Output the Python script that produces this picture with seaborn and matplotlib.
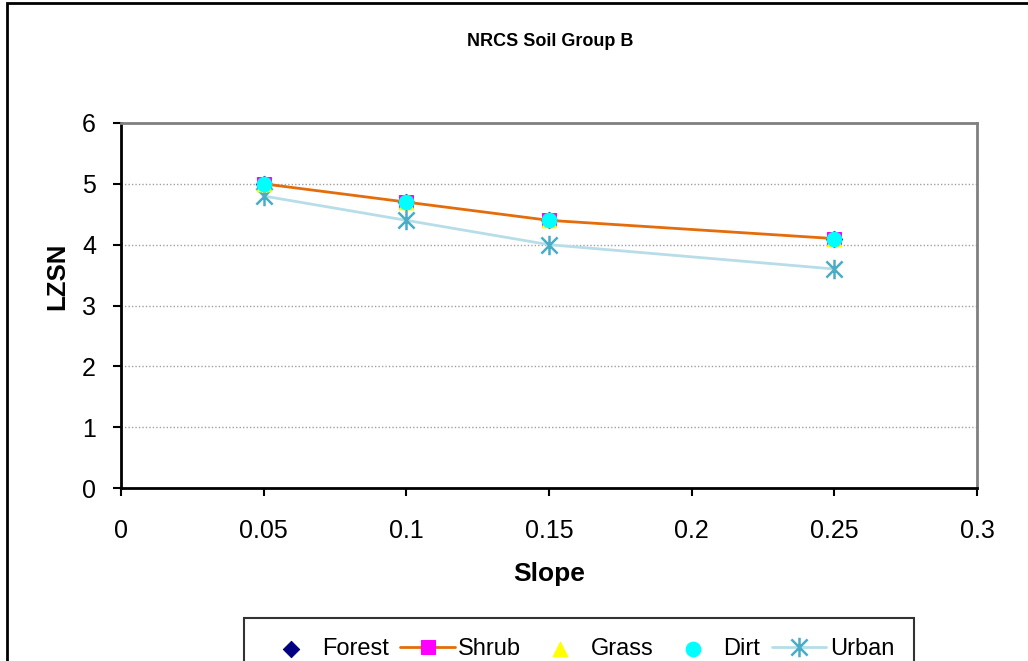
import numpy as np
import pandas as pd
import seaborn as sns
import matplotlib.pyplot as plt
from matplotlib.path import Path
from matplotlib.patches import Rectangle

# data
slope = [0.05, 0.1, 0.15, 0.25]
forest = [5.0, 4.7, 4.4, 4.1]
shrub = [5.0, 4.7, 4.4, 4.1]
grass = [5.0, 4.7, 4.4, 4.1]
dirt = [5.0, 4.7, 4.4, 4.1]
urban = [4.8, 4.4, 4.0, 3.6]

sns.set_style("white")
plt.rcParams['font.family'] = ['Liberation Sans', 'DejaVu Sans']
plt.rcParams.update({'text.color': 'black', 'axes.labelcolor': 'black',
                     'xtick.color': 'black', 'ytick.color': 'black'})

# excel style asterisk: x plus a vertical bar
star = Path([(-1, -1), (1, 1), (-1, 1), (1, -1), (0, -1.2), (0, 1.2)],
            [Path.MOVETO, Path.LINETO, Path.MOVETO, Path.LINETO, Path.MOVETO, Path.LINETO])

fig = plt.figure(figsize=(10.28, 6.61), dpi=100)
ax = fig.add_axes([121/1028, 1-488/661, (977-121)/1028, (488-123)/661])

sns.scatterplot(x=slope, y=forest, ax=ax, marker='D', s=70, color='#000080',
                edgecolor='#000080', label='Forest', zorder=3)
sns.lineplot(x=slope, y=shrub, ax=ax, color='#E46C0A', lw=2, marker='s', markersize=10,
             markerfacecolor='#FF00FF', markeredgecolor='#FF00FF', label='Shrub', zorder=3)
sns.scatterplot(x=slope, y=grass, ax=ax, marker='^', s=110, color='#FFFF00',
                edgecolor='#FFFF00', label='Grass', zorder=4)
sns.scatterplot(x=slope, y=dirt, ax=ax, marker='o', s=110, color='#00FFFF',
                edgecolor='#00FFFF', label='Dirt', zorder=5)
sns.lineplot(x=slope, y=urban, ax=ax, color='#B7DDE8', lw=2, marker=star, markersize=14,
             markeredgecolor='#4BACC6', markeredgewidth=1.8, label='Urban', zorder=3)

ax.set_xlim(0, 0.3)
ax.set_ylim(0, 6)
ax.set_xticks([0, 0.05, 0.1, 0.15, 0.2, 0.25, 0.3])
ax.set_xticklabels(['0', '0.05', '0.1', '0.15', '0.2', '0.25', '0.3'])
ax.set_yticks(range(7))
ax.tick_params(axis='x', direction='out', length=6, width=1.5, pad=16, labelsize=18, bottom=True)
ax.tick_params(axis='y', direction='out', length=6, width=1.5, pad=12, labelsize=18, left=True)
ax.yaxis.grid(True, linestyle=(0, (1, 1.5)), color='#A0A0A0', lw=1)
ax.set_axisbelow(True)

for s in ['top', 'right']:
    ax.spines[s].set_color('#808080')
    ax.spines[s].set_linewidth(2)
for s in ['left', 'bottom']:
    ax.spines[s].set_color('black')
    ax.spines[s].set_linewidth(2)

ax.set_xlabel('Slope', fontsize=19, fontweight='bold', labelpad=14)
ax.set_ylabel('')
fig.text(57/1028, 1-276/661, 'LZSN', rotation=90, ha='center', va='center',
         fontsize=18.5, fontweight='bold')
fig.text(550/1028, 1-42/661, 'NRCS Soil Group B', ha='center', va='center',
         fontsize=13, fontweight='bold')

leg = ax.legend(loc='upper center', bbox_to_anchor=(579/1028, 1-618/661),
                bbox_transform=fig.transFigure, ncol=5, fontsize=17, frameon=True,
                fancybox=False, edgecolor='black', handlelength=2.3, columnspacing=0.5,
                handletextpad=0.15, borderaxespad=0, borderpad=0.85)
leg.get_frame().set_linewidth(1.5)

# outer chart border (runs past the right and bottom of the picture)
fig.add_artist(Rectangle((7/1028, -0.2), 1.2, 1-3/661+0.2, transform=fig.transFigure,
                         fill=False, lw=2, edgecolor='black', clip_on=False))

fig.savefig('out.png', dpi=100)
